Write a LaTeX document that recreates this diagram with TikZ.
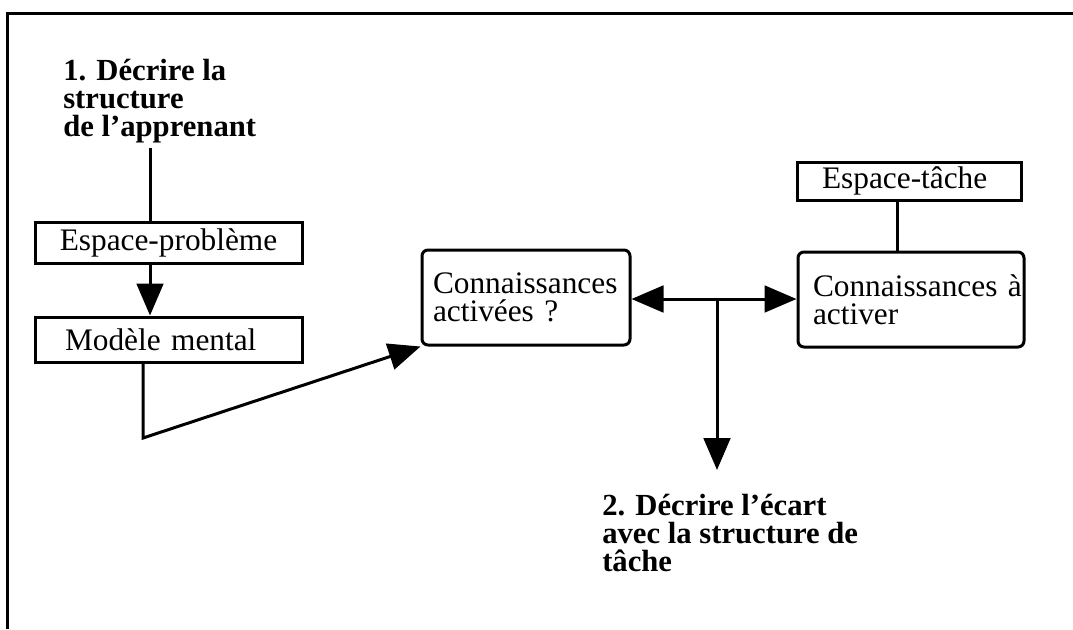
\documentclass[tikz,border=0pt]{standalone}
\usepackage{fontspec}
\setmainfont{Liberation Serif}
\usetikzlibrary{arrows.meta}

\tikzset{
  stroke/.style={line width=2.25pt},
  arr/.style={stroke, -{Triangle[length=24pt,width=20pt]}},
  dblarr/.style={stroke, {Triangle[length=24pt,width=20pt]}-{Triangle[length=24pt,width=20pt]}},
  txt/.style={font=\fontsize{23.5}{21}\selectfont},
  boxA/.style={draw, stroke, txt, inner ysep=0pt},
  boxR/.style={boxA, rounded corners=4.5pt},
  title/.style={font=\bfseries\fontsize{23}{21}\selectfont, align=left, inner sep=0pt, anchor=north west}
}

\begin{document}
\begin{tikzpicture}[x=0.75pt, y=-0.75pt]
  \useasboundingbox (0,0) rectangle (1073,629);

  % frame (top and left edges)
  \draw[stroke] (1073,13) -- (7,13) -- (7,629);

  % step labels
  \node[title] (lab1) at (63,59) {1. Décrire la\\structure\\de l'apprenant};
  \node[title] (lab2) at (602,494) {2. Décrire l'écart\\avec la structure de\\tâche};

  % learner side
  \node[boxA, minimum width=200.25pt, minimum height=30.75pt, text width=170pt, align=center, inner xsep=15pt]
    (ep) at (168.5,242.5) {Espace-problème};
  \node[boxA, minimum width=200.25pt, minimum height=33.75pt, text width=155.25pt, align=left, inner xsep=22.5pt]
    (mm) at (168.5,339.5) {Modèle mental};

  % activated knowledge
  \node[boxR, minimum width=156pt, minimum height=71.25pt, text width=139.5pt, align=left, inner xsep=8.25pt]
    (ca) at (526,297.5) {Connaissances\\activées ?};

  % task side
  \node[boxA, minimum width=168pt, minimum height=28.5pt, text width=130.5pt, align=left, inner xsep=18.75pt]
    (et) at (909,181) {Espace-tâche};
  \node[boxR, minimum width=169.5pt, minimum height=71.25pt, text width=147pt, align=left, inner xsep=11.25pt]
    (cb) at (911,299.5) {Connaissances~à\\activer};

  % helper points
  \coordinate (c1) at (150,148);
  \coordinate (c2) at (143,438);
  \coordinate (tj) at (717,299);
  \coordinate (c3) at (717,470);
  \coordinate (c4) at (897,200);

  % connectors
  \draw[stroke] (c1) -- (c1 |- ep.north);
  \draw[arr] (c1 |- ep.south) -- (c1 |- mm.north);
  \draw[arr] (c2 |- mm.south) -- (c2) -- (ca.south west);
  \draw[dblarr] (ca.east |- tj) -- (cb.west |- tj);
  \draw[arr] (tj) -- (c3);
  \draw[stroke] (c4 |- et.south) -- (c4 |- cb.north);
\end{tikzpicture}
\end{document}
